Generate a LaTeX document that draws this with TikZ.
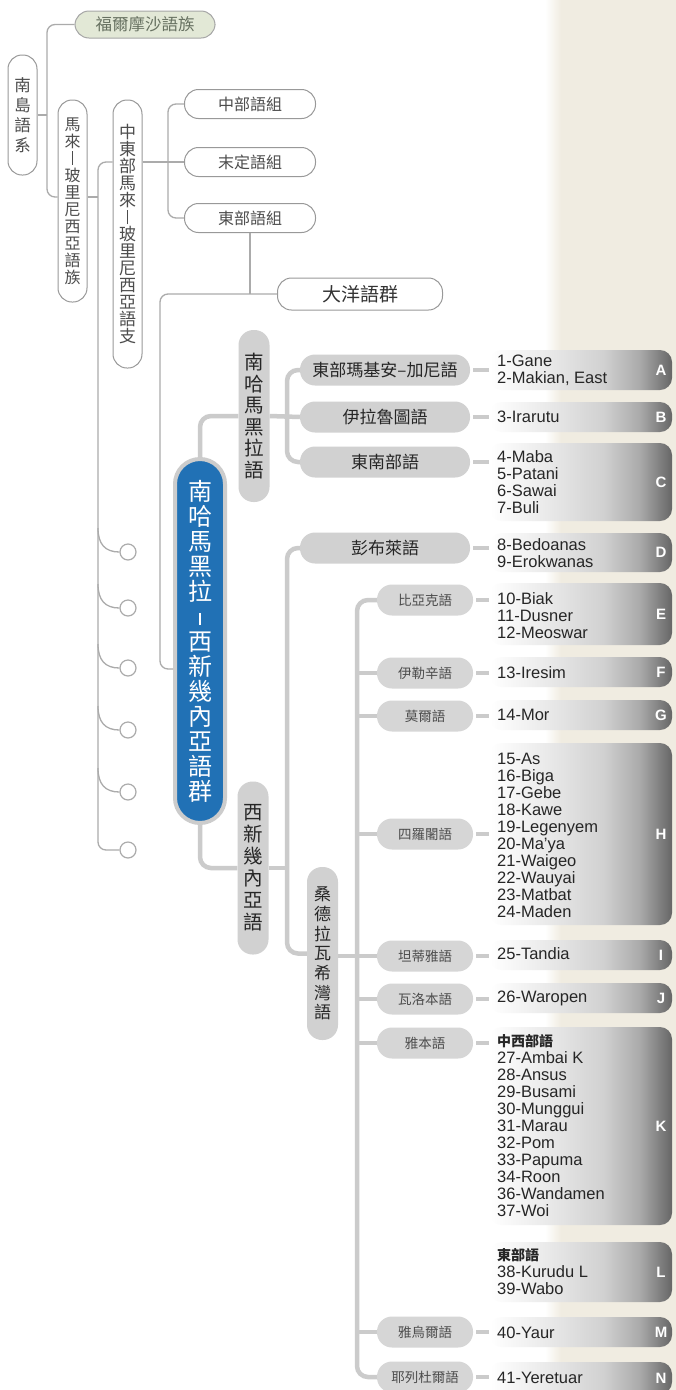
\documentclass[tikz,border=0pt]{standalone}
\usepackage{fontspec}
\setmainfont{Liberation Sans}
\newfontfamily\cjk{Noto Sans CJK TC}
\usetikzlibrary{calc}

\definecolor{beige}{HTML}{F0ECE1}
\definecolor{pillgrey}{HTML}{D1D1D1}
\definecolor{linegrey}{HTML}{CBCBCB}
\definecolor{thingrey}{HTML}{ABABAB}
\definecolor{seablue}{HTML}{2171B5}
\definecolor{sage}{HTML}{E2E8D6}
\definecolor{sagetext}{HTML}{667060}
\definecolor{tabdark}{HTML}{666666}

\pgfdeclarehorizontalshading{tabshade}{100bp}{color(0bp)=(white); color(25bp)=(white); color(40bp)=(black!8); color(56bp)=(black!18); color(66bp)=(black!33); color(75bp)=(tabdark); color(100bp)=(tabdark)}

\newcommand{\vbar}{\rule[-0.05em]{0.07em}{0.85em}}

\tikzset{
  frame/.style={draw=black!40, line width=1pt, fill=white, rounded corners=14pt, inner sep=0pt, text=black!70, font=\cjk\fontsize{16}{17}\selectfont},
  vframe/.style={frame, minimum width=29pt, align=center},
  gpill/.style={fill=pillgrey, rounded corners=15pt, inner sep=0pt, minimum width=170pt, minimum height=31pt, text=black!85, font=\cjk\fontsize{17}{18}\selectfont},
  spill/.style={gpill, fill=black!16, minimum width=96pt, text=black!70, font=\cjk\fontsize{13.5}{15}\selectfont},
  vpill/.style={gpill, minimum width=31pt, align=center, font=\cjk\fontsize{19.5}{21.5}\selectfont},
  fineline/.style={draw=thingrey, line width=1.3pt, rounded corners=8pt},
  boldline/.style={draw=linegrey, line width=4.5pt, rounded corners=11pt},
  stub/.style={draw=linegrey, line width=3.5pt},
  dot/.style={circle, draw=thingrey, fill=white, line width=1.2pt, minimum size=16pt, inner sep=0pt},
  langs/.style={anchor=west, align=left, inner sep=0pt, text=black!85, font=\fontsize{16.5}{17}\selectfont},
  tabletter/.style={text=white, font=\bfseries\fontsize{15}{15}\selectfont},
}

\begin{document}
\begin{tikzpicture}[x=1pt,y=-1pt]
\useasboundingbox (0,0) rectangle (676,1390);
\fill[white] (0,0) rectangle (676,1390);
\fill[beige] (560,0) rectangle (676,1390);
\shade[left color=white, right color=beige] (545,0) rectangle (561,1390);

% letter tabs
\foreach \ya/\yb/\lt in {350/390/A, 402/432/B, 443/521/C, 533/572/D, 583/645/E, 657/687/F, 700/730/G, 743/925/H, 940/970/I, 983/1013/J, 1027/1225/K, 1242/1302/L, 1317/1347/M, 1362/1394/N}{
  \shade[shading=tabshade, rounded corners=12pt] (490,\ya) rectangle (672,\yb);
  \node[tabletter] (tab\lt) at (661,{(\ya+\yb)/2}) {\lt};
}

% upper tree
\node[frame, fill=sage, draw=black!35, text=sagetext, minimum width=140pt, minimum height=27pt, font=\cjk\fontsize{16.5}{17}\selectfont] (fm) at (145,24.5) {福爾摩沙語族};
\node[vframe, minimum height=120pt, font=\cjk\fontsize{16.5}{20}\selectfont] (an) at (22.5,115) {南\\島\\語\\系};
\node[vframe, minimum height=202pt, font=\cjk\fontsize{16}{17}\selectfont] (mp) at (72.5,201) {馬\\來\\\vbar\\玻\\里\\尼\\西\\亞\\語\\族};
\node[vframe, minimum height=268pt, font=\cjk\fontsize{17}{17}\selectfont] (cemp) at (127.5,234) {中\\東\\部\\馬\\來\\\vbar\\玻\\里\\尼\\西\\亞\\語\\支};
\node[frame, minimum width=131pt, minimum height=29pt] (cg) at (250,104) {中部語組};
\node[frame, minimum width=131pt, minimum height=29pt] (ug) at (250,162) {末定語組};
\node[frame, minimum width=131pt, minimum height=29pt] (eg) at (250,218) {東部語組};
\node[frame, minimum width=165pt, minimum height=32pt, text=black!80, font=\cjk\fontsize{19}{20}\selectfont] (oc) at (360,294) {大洋語群};
\foreach \y [count=\i] in {552,608,668,730,792,850}
  \node[dot] (c\i) at (128,\y) {};

% blue group and branches
\node[draw=black!20, line width=4pt, fill=seablue, rounded corners=25pt, minimum width=50pt, minimum height=364pt, align=center, inner sep=0pt, text=white, font=\cjk\fontsize{24}{25}\selectfont] (hw) at (200,641) {南\\哈\\馬\\黑\\拉\\\rule{1.5pt}{12pt}\\西\\新\\幾\\內\\亞\\語\\群};
\node[vpill, minimum height=172pt] (sh) at (254,416) {南\\哈\\馬\\黑\\拉\\語};
\node[vpill, minimum height=173pt, font=\cjk\fontsize{19.5}{22}\selectfont] (wn) at (253,868) {西\\新\\幾\\內\\亞\\語};
\node[vpill, minimum height=173pt, font=\cjk\fontsize{17}{19.7}\selectfont] (cb) at (322.5,953.5) {桑\\德\\拉\\瓦\\希\\灣\\語};

\node[gpill] (em) at (385,370) {東部瑪基安–加尼語};
\node[gpill] (ir) at (385,417) {伊拉魯圖語};
\node[gpill] (se) at (385,462) {東南部語};
\node[gpill] (bo) at (385,548) {彭布萊語};

\node[spill] (bi) at (425,600) {比亞克語};
\node[spill] (is) at (425,673) {伊勒辛語};
\node[spill] (mo) at (425,716) {莫爾語};
\node[spill] (ra) at (425,834) {四羅闍語};
\node[spill] (ta) at (425,956) {坦蒂雅語};
\node[spill] (wa) at (425,999) {瓦洛本語};
\node[spill] (ya) at (425,1043) {雅本語};
\node[spill] (yu) at (425,1332) {雅烏爾語};
\node[spill] (ye) at (425,1377) {耶列杜爾語};

% language lists
\node[langs] (lA) at (497,370) {1-Gane\\2-Makian, East};
\node[langs] (lB) at (497,417) {3-Irarutu};
\node[langs] (lC) at (497,482) {4-Maba\\5-Patani\\6-Sawai\\7-Buli};
\node[langs] (lD) at (497,553) {8-Bedoanas\\9-Erokwanas};
\node[langs] (lE) at (497,616) {10-Biak\\11-Dusner\\12-Meoswar};
\node[langs] (lF) at (497,673) {13-Iresim};
\node[langs] (lG) at (497,715) {14-Mor};
\node[langs] (lH) at (497,835) {15-As\\16-Biga\\17-Gebe\\18-Kawe\\19-Legenyem\\20-Ma’ya\\21-Waigeo\\22-Wauyai\\23-Matbat\\24-Maden};
\node[langs] (lI) at (497,954) {25-Tandia};
\node[langs] (lJ) at (497,998) {26-Waropen};
\node[langs] (lK) at (497,1126) {{\cjk\bfseries\fontsize{14}{17}\selectfont 中西部語}\\27-Ambai K\\28-Ansus\\29-Busami\\30-Munggui\\31-Marau\\32-Pom\\33-Papuma\\34-Roon\\36-Wandamen\\37-Woi};
\node[langs] (lL) at (497,1272) {{\cjk\bfseries\fontsize{14}{17}\selectfont 東部語}\\38-Kurudu L\\39-Wabo};
\node[langs] (lM) at (497,1333) {40-Yaur};
\node[langs] (lN) at (497,1378) {41-Yeretuar};

% connectors
\coordinate (k0) at (47,115);
\coordinate (k1) at (98,197);
\coordinate (k2) at (168,162);
\coordinate (k3) at (160,600);
\coordinate (k4) at (287,417);
\coordinate (k5) at (287,868);
\coordinate (k6) at (357,956);

\draw[fineline] (an.east) -- (k0);
\draw[fineline] (fm.west) -| (k0) |- ([yshift=4pt]mp.west);
\draw[fineline] ([yshift=4pt]mp.east) -- (k1);
\draw[fineline] (cemp.west |- ug.west) -| (k1) |- (c6.west);
\foreach \y [count=\i] in {552,608,668,730,792}
  \draw[fineline] (98,{\y-24}) .. controls (98,{\y-8}) and (105,\y) .. (c\i.west);
\draw[fineline] (cemp.east |- ug.west) -- (ug.west);
\draw[fineline] (cg.west) -| (k2) |- (eg.west);
\draw[fineline] (eg.south) -- (eg.south |- oc.west);
\draw[fineline] (oc.west) -| (k3) |- ([yshift=-28pt]hw.west);

\draw[boldline] (hw.north) |- (sh.west);
\draw[boldline] (sh.east) -- (ir.west);
\draw[boldline] (em.west) -| (k4) |- (se.west);
\draw[boldline] (hw.south) |- (wn.west);
\draw[boldline] (wn.east) -- (k5);
\draw[boldline] (bo.west) -| (k5) |- (cb.west);
\draw[boldline] (cb.east |- ta.west) -- (ta.west);
\draw[boldline] (bi.west) -| (k6) |- (ye.west);
\foreach \p in {is,mo,ra,wa,ya,yu}
  \draw[boldline] (\p.west) -- (\p.west -| k6);

\foreach \p/\l in {em/lA, ir/lB, se/lC, bo/lD, bi/lE, is/lF, mo/lG, ra/lH, ta/lI, wa/lJ, ya/lK, yu/lM, ye/lN}
  \draw[stub] ([xshift=3pt]\p.east) -- ($(\p.east -| \l.west)+(-8,0)$);
\end{tikzpicture}
\end{document}
